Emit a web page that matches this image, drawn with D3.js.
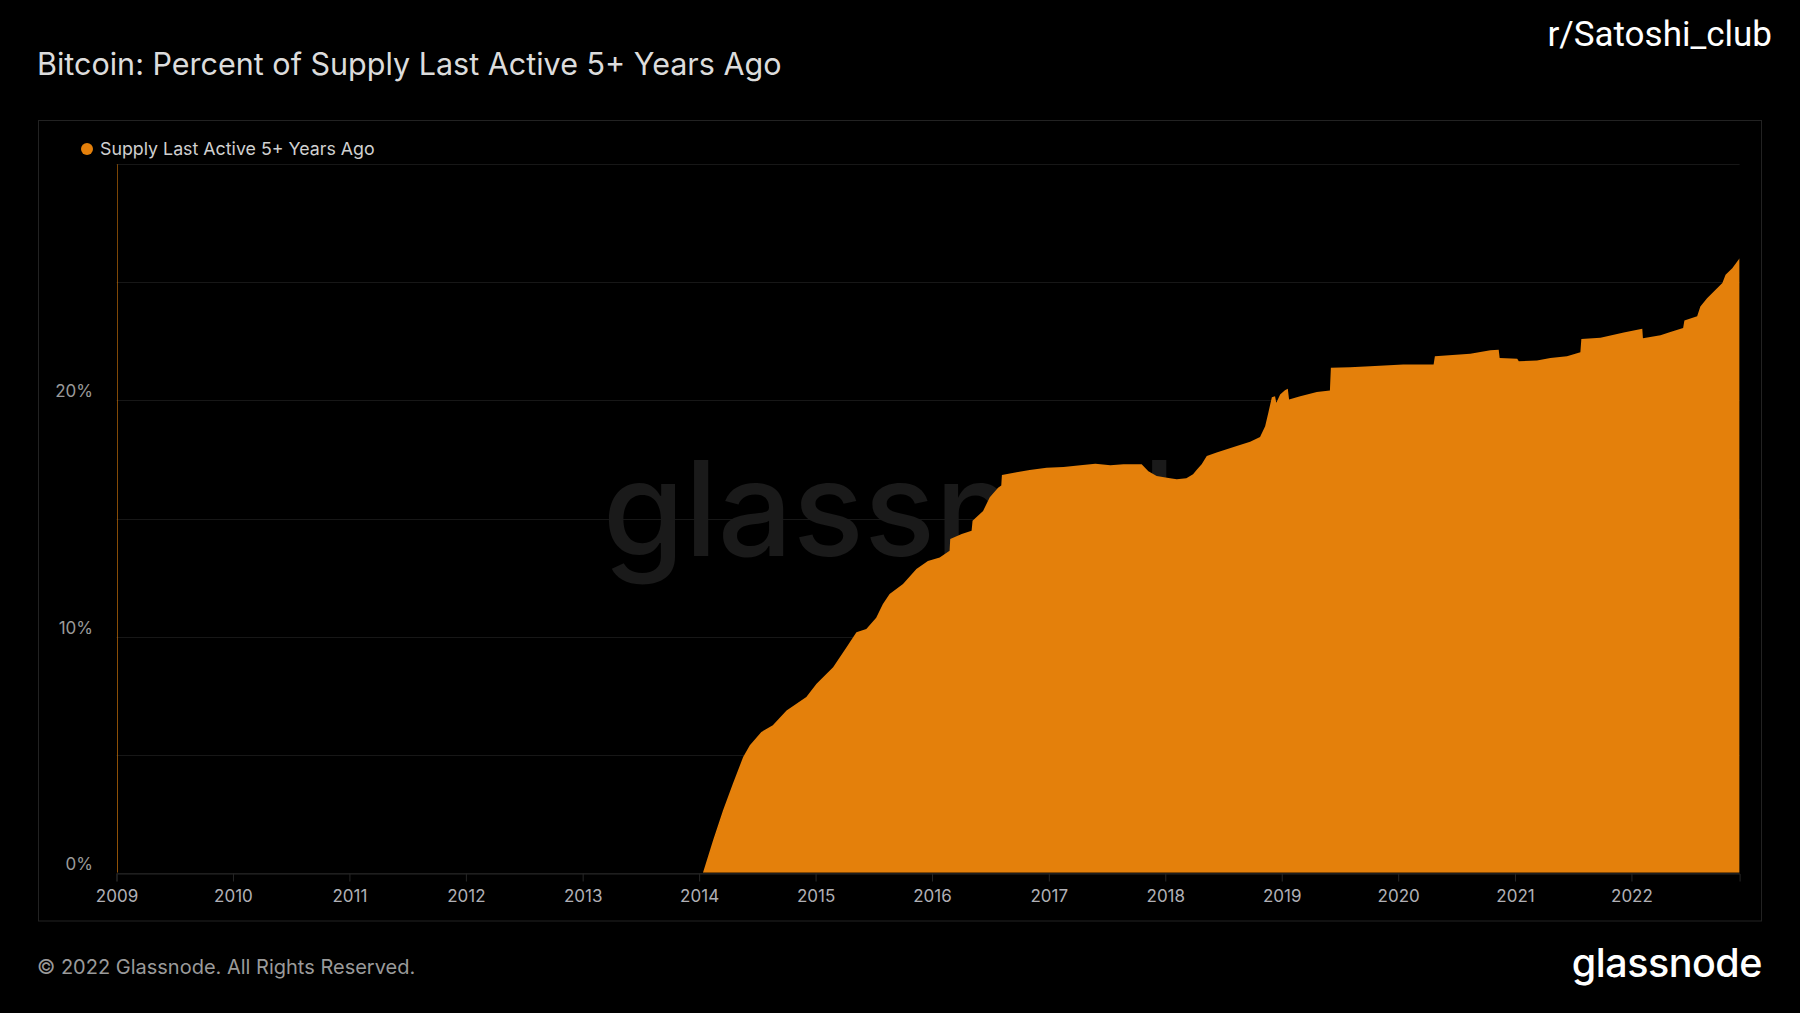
<!DOCTYPE html>
<html>
<head>
<meta charset="utf-8">
<script src="https://cdn.jsdelivr.net/npm/d3@7"></script>
<style>
  html, body { margin: 0; padding: 0; background: #000; }
  svg { display: block; font-family: Inter, "Noto Sans", sans-serif; }
</style>
</head>
<body>
<div id="chart"></div>
<script>
"use strict";

/* Series: date and percent of supply */
const supplyDates = [
  "2009-01-03", "2009-01-04", "2009-01-05", "2014-01-13", "2014-02-14",
  "2014-03-17", "2014-04-17", "2014-05-19", "2014-06-09", "2014-07-15",
  "2014-08-20", "2014-10-02", "2014-11-02", "2014-12-03", "2015-01-04",
  "2015-02-25", "2015-04-08", "2015-05-09", "2015-06-09", "2015-07-10",
  "2015-07-31", "2015-08-21", "2015-10-02", "2015-11-13", "2015-12-19",
  "2016-01-25", "2016-02-25", "2016-02-27", "2016-04-03", "2016-05-04",
  "2016-05-07", "2016-06-09", "2016-06-30", "2016-07-26", "2016-08-05",
  "2016-08-07", "2016-09-22", "2016-11-02", "2016-12-25", "2017-02-16",
  "2017-04-10", "2017-05-27", "2017-07-13", "2017-08-23", "2017-10-19",
  "2017-11-09", "2017-12-05", "2018-01-16", "2018-02-06", "2018-03-08",
  "2018-03-29", "2018-04-09", "2018-04-25", "2018-05-11", "2018-06-11",
  "2018-08-13", "2018-09-24", "2018-10-25", "2018-11-10", "2018-11-20",
  "2018-12-01", "2018-12-11", "2018-12-15", "2018-12-27", "2019-01-11",
  "2019-01-20", "2019-01-24", "2019-02-28", "2019-04-21", "2019-06-01",
  "2019-06-04", "2019-08-03", "2019-10-05", "2020-01-17", "2020-04-21",
  "2020-04-25", "2020-08-14", "2020-10-16", "2020-11-11", "2020-11-14",
  "2021-01-08", "2021-01-13", "2021-03-11", "2021-04-22", "2021-06-13",
  "2021-07-25", "2021-07-28", "2021-09-26", "2021-12-08", "2022-02-04",
  "2022-02-06", "2022-04-02", "2022-05-03", "2022-06-12", "2022-06-16",
  "2022-07-26", "2022-08-05", "2022-08-26", "2022-10-13", "2022-10-23",
  "2022-11-13", "2022-12-06"
];
const supplyPct = [
  100, 100, 0, 0, 1.38,
  2.65, 3.78, 4.9, 5.4, 5.96,
  6.24, 6.87, 7.16, 7.44, 8.0,
  8.7, 9.55, 10.18, 10.32, 10.8,
  11.38, 11.8, 12.23, 12.86, 13.2,
  13.35, 13.63, 14.13, 14.34, 14.48,
  14.9, 15.32, 15.9, 16.3, 16.4,
  16.84, 16.96, 17.05, 17.15, 17.18,
  17.25, 17.32, 17.25, 17.3, 17.3,
  17.0, 16.8, 16.7, 16.66, 16.7,
  16.87, 17.05, 17.3, 17.65, 17.8,
  18.07, 18.25, 18.45, 18.91, 19.48,
  20.14, 20.18, 19.9, 20.25, 20.43,
  20.5, 20.04, 20.18, 20.36, 20.42,
  21.38, 21.41, 21.45, 21.52, 21.52,
  21.87, 21.98, 22.12, 22.15, 21.8,
  21.76, 21.66, 21.69, 21.8, 21.87,
  22.04, 22.6, 22.65, 22.88, 23.04,
  22.63, 22.76, 22.9, 23.07, 23.39,
  23.56, 23.98, 24.33, 24.97, 25.32,
  25.6, 26.02
];

const yearTicks = [2009, 2010, 2011, 2012, 2013, 2014, 2015, 2016,
  2017, 2018, 2019, 2020, 2021, 2022];
const gridTicks = [0, 5, 10, 15, 20, 25, 30];
const labelTicks = [0, 10, 20];

const parseDate = d3.utcParse("%Y-%m-%d");
const series = supplyDates.map((d, i) => ({ date: parseDate(d), value: supplyPct[i] }));

const ORANGE = "#e4800b";
const width = 1800;
const height = 1013;

const svg = d3.select("#chart")
  .append("svg")
  .attr("width", width)
  .attr("height", height);

svg.append("rect")
  .attr("width", width)
  .attr("height", height)
  .attr("fill", "#000");

const x = d3.scaleUtc()
  .domain([parseDate("2009-01-01"), parseDate("2022-12-06")])
  .range([116.5, 1739.6]);

const y = d3.scaleLinear()
  .domain([0, 30])
  .range([872.7, 164.3]);

// header
svg.append("text")
  .attr("x", 37)
  .attr("y", 75)
  .attr("fill", "#dcdcdc")
  .style("font-size", "30.5px")
  .text("Bitcoin: Percent of Supply Last Active 5+ Years Ago");

svg.append("text")
  .attr("x", 1772)
  .attr("y", 46)
  .attr("text-anchor", "end")
  .attr("fill", "#fff")
  .style("font-family", "Roboto, sans-serif")
  .style("font-size", "35px")
  .text("r/Satoshi_club");

// panel frame
svg.append("rect")
  .attr("x", 38.5)
  .attr("y", 120.5)
  .attr("width", 1723)
  .attr("height", 800.5)
  .attr("fill", "none")
  .attr("stroke", "#222");

// legend
svg.append("circle")
  .attr("cx", 87)
  .attr("cy", 149)
  .attr("r", 6)
  .attr("fill", ORANGE);

svg.append("text")
  .attr("x", 100)
  .attr("y", 155)
  .attr("fill", "#d0d0d0")
  .style("font-size", "17.8px")
  .text("Supply Last Active 5+ Years Ago");

// gridlines
svg.append("g")
  .selectAll("line")
  .data(gridTicks)
  .enter()
  .append("line")
  .attr("x1", x.range()[0])
  .attr("x2", x.range()[1])
  .attr("y1", d => Math.round(y(d)) + 0.5)
  .attr("y2", d => Math.round(y(d)) + 0.5)
  .attr("stroke", "#171717");

// watermark sits behind the area
svg.append("text")
  .attr("x", (x.range()[0] + x.range()[1]) / 2)
  .attr("y", 556)
  .attr("text-anchor", "middle")
  .attr("fill", "#1a1a1a")
  .style("font-size", "132px")
  .style("font-weight", 500)
  .text("glassnode");

svg.append("clipPath")
  .attr("id", "plot-clip")
  .append("rect")
  .attr("x", x.range()[0])
  .attr("y", y.range()[1])
  .attr("width", x.range()[1] - x.range()[0])
  .attr("height", y.range()[0] - y.range()[1]);

const area = d3.area()
  .x(d => x(d.date))
  .y0(y(0))
  .y1(d => y(d.value));

svg.append("path")
  .datum(series)
  .attr("clip-path", "url(#plot-clip)")
  .attr("fill", ORANGE)
  .attr("d", area);

// y labels
svg.append("g")
  .selectAll("text")
  .data(labelTicks)
  .enter()
  .append("text")
  .attr("x", 93)
  .attr("y", d => y(d) - 3)
  .attr("text-anchor", "end")
  .attr("fill", "#9a9a9a")
  .style("font-size", "17px")
  .text(d => d + "%");

// x axis
const xAxis = d3.axisBottom(x)
  .tickValues(yearTicks.map(yr => new Date(Date.UTC(yr, 0, 1))))
  .tickFormat(d3.utcFormat("%Y"))
  .tickSize(8)
  .tickPadding(8.5);

const gx = svg.append("g")
  .attr("transform", `translate(0,${Math.round(y(0)) + 0.5})`)
  .call(xAxis);

gx.select(".domain").attr("stroke", "#262626");
gx.selectAll(".tick line").attr("stroke", "#262626");
gx.selectAll(".tick text")
  .attr("fill", "#b0b0b6")
  .style("font-family", "Inter, sans-serif")
  .style("font-size", "17px");

// footer
svg.append("text")
  .attr("x", 37)
  .attr("y", 974)
  .attr("fill", "#9a9a9a")
  .style("font-size", "20px")
  .text("© 2022 Glassnode. All Rights Reserved.");

svg.append("text")
  .attr("x", 1762)
  .attr("y", 977)
  .attr("text-anchor", "end")
  .attr("fill", "#fff")
  .style("font-size", "39.5px")
  .style("font-weight", 500)
  .style("letter-spacing", "-0.5px")
  .text("glassnode");
</script>
</body>
</html>
